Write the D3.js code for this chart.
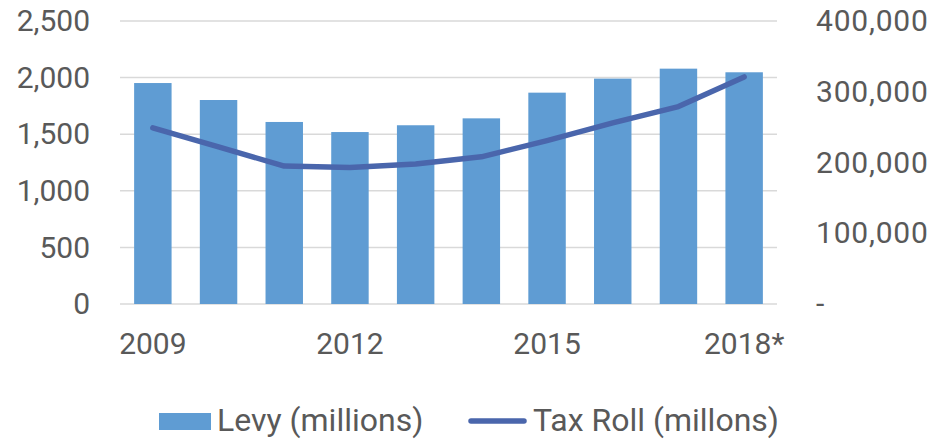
<!DOCTYPE html>
<html>
<head>
<meta charset="utf-8">
<script src="https://cdn.jsdelivr.net/npm/d3@7"></script>
<style>
  body { margin: 0; background: #fff; }
  text { font-family: Roboto, "Open Sans", sans-serif; fill: #595959; }
</style>
</head>
<body>
<div id="chart"></div>
<script>
var years = ["2009", "2010", "2011", "2012", "2013", "2014", "2015", "2016", "2017", "2018*"];
var levy = [1952, 1802, 1608, 1519, 1579, 1640, 1867, 1991, 2079, 2047]; // millions
var taxRoll = [249000, 222000, 195000, 193000, 198000, 208000, 231000, 256000, 279000, 321000]; // millons
var shownYears = ["2009", "2012", "2015", "2018*"];
var leftTicks = [0, 500, 1000, 1500, 2000, 2500];
var rightTicks = [0, 100000, 200000, 300000, 400000];

var W = 931, H = 442;
var plot = {left: 120, right: 777, top: 21, bottom: 304};

var svg = d3.select("#chart").append("svg")
  .attr("width", W)
  .attr("height", H);

var x = d3.scaleBand()
  .domain(years)
  .range([plot.left, plot.right])
  .paddingInner(0.43)
  .paddingOuter(0.215);

var yL = d3.scaleLinear().domain([0, 2500]).range([plot.bottom, plot.top]);
var yR = d3.scaleLinear().domain([0, 400000]).range([plot.bottom, plot.top]);

var fmt = d3.format(",");

// gridlines
svg.append("g")
  .selectAll("line")
  .data(leftTicks)
  .enter()
  .append("line")
  .attr("x1", plot.left)
  .attr("x2", plot.right)
  .attr("y1", function(d){ return yL(d); })
  .attr("y2", function(d){ return yL(d); })
  .style("stroke", "#d9d9d9")
  .style("stroke-width", 1.5);

// left axis labels
var leftAxis = d3.axisLeft(yL).tickValues(leftTicks).tickFormat(fmt).tickSize(0).tickPadding(30);
svg.append("g")
  .attr("transform", "translate(" + plot.left + ",0)")
  .call(leftAxis)
  .call(function(g){ g.select(".domain").remove(); })
  .selectAll("text")
  .style("font-size", "30px")
  .attr("fill", "#595959");

// right axis labels
var rightAxis = d3.axisRight(yR).tickValues(rightTicks)
  .tickFormat(function(d){ return d === 0 ? "-" : fmt(d); })
  .tickSize(0).tickPadding(39);
svg.append("g")
  .attr("transform", "translate(" + plot.right + ",0)")
  .call(rightAxis)
  .call(function(g){ g.select(".domain").remove(); })
  .selectAll("text")
  .style("font-size", "30px")
  .style("letter-spacing", "0.8px")
  .attr("fill", "#595959");

// bottom axis labels
var bottomAxis = d3.axisBottom(x).tickValues(shownYears).tickSize(0).tickPadding(29);
svg.append("g")
  .attr("transform", "translate(0," + plot.bottom + ")")
  .call(bottomAxis)
  .call(function(g){ g.select(".domain").remove(); })
  .selectAll("text")
  .style("font-size", "30px")
  .attr("fill", "#595959");

// bars
svg.append("g")
  .selectAll("rect")
  .data(levy)
  .enter()
  .append("rect")
  .attr("x", function(d, i){ return x(years[i]); })
  .attr("width", x.bandwidth())
  .attr("y", function(d){ return yL(d); })
  .attr("height", function(d){ return yL(0) - yL(d); })
  .style("fill", "#5f9cd3");

// tax roll line
var line = d3.line()
  .x(function(d, i){ return x(years[i]) + x.bandwidth() / 2; })
  .y(function(d){ return yR(d); });

svg.append("path")
  .datum(taxRoll)
  .attr("d", line)
  .style("fill", "none")
  .style("stroke", "#4a66ac")
  .style("stroke-width", 5.5)
  .style("stroke-linecap", "round")
  .style("stroke-linejoin", "round");

// legend
var legend = svg.append("g");
legend.append("rect")
  .attr("x", 159).attr("y", 413)
  .attr("width", 52).attr("height", 17)
  .style("fill", "#5f9cd3");
legend.append("text")
  .attr("x", 217).attr("y", 431)
  .style("font-size", "32px")
  .text("Levy (millions)");
legend.append("line")
  .attr("x1", 471).attr("x2", 524)
  .attr("y1", 421).attr("y2", 421)
  .style("stroke", "#4a66ac")
  .style("stroke-width", 5.5)
  .style("stroke-linecap", "round");
legend.append("text")
  .attr("x", 533).attr("y", 431)
  .style("font-size", "32px")
  .text("Tax Roll (millons)");
</script>
</body>
</html>
